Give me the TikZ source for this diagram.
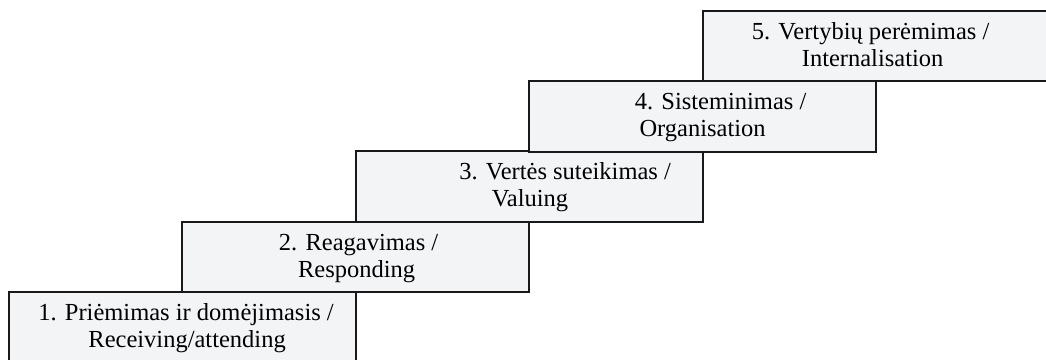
\documentclass[tikz,border=0pt]{standalone}
\usepackage{fontspec}
\setmainfont{Liberation Serif}
\definecolor{boxfill}{RGB}{243,244,246}
\definecolor{boxline}{RGB}{25,25,25}
\tikzset{
  stair/.style={draw=boxline, fill=boxfill, line width=2.2pt, anchor=north west,
    minimum width=347pt, minimum height=70.5pt, inner sep=0pt},
  lbl/.style={anchor=base, inner sep=0pt, font=\fontsize{24.5}{27}\selectfont}
}
\begin{document}
\begin{tikzpicture}[x=1pt,y=-1pt]
\useasboundingbox (0,0) rectangle (1046,359);
\clip (0,0) rectangle (1046,359);
\fill[white] (0,0) rectangle (1046,359);
% boxes
\node[stair] (s1) at (8,291) {};
\node[stair] (s2) at (181,220.5) {};
\node[stair] (s3) at (355,150) {};
\node[stair] (s4) at (528,80) {};
\node[stair] (s5) at (702,9.5) {};
% texts
\node[lbl] (a1) at ([xshift=3.5pt,yshift=-29.5pt]s1.north) {1. Priėmimas ir domėjimasis /};
\node[lbl] (b1) at ([xshift=4.5pt,yshift=-56.5pt]s1.north) {Receiving/attending};
\node[lbl] (a2) at ([xshift=3pt,yshift=-29.5pt]s2.north) {2. Reagavimas /};
\node[lbl] (b2) at ([xshift=1pt,yshift=-56.5pt]s2.north) {Responding};
\node[lbl] (a3) at ([xshift=35.5pt,yshift=-29.5pt]s3.north) {3. Vertės suteikimas /};
\node[lbl] (b3) at ([xshift=0.5pt,yshift=-56.5pt]s3.north) {Valuing};
\node[lbl] (a4) at ([xshift=18pt,yshift=-29.5pt]s4.north) {4. Sisteminimas /};
\node[lbl] (b4) at ([xshift=0pt,yshift=-56.5pt]s4.north) {Organisation};
\node[lbl] (a5) at ([xshift=-6pt,yshift=-29.5pt]s5.north) {5. Vertybių perėmimas /};
\node[lbl] (b5) at ([xshift=-4pt,yshift=-56.5pt]s5.north) {Internalisation};
\end{tikzpicture}
\end{document}
